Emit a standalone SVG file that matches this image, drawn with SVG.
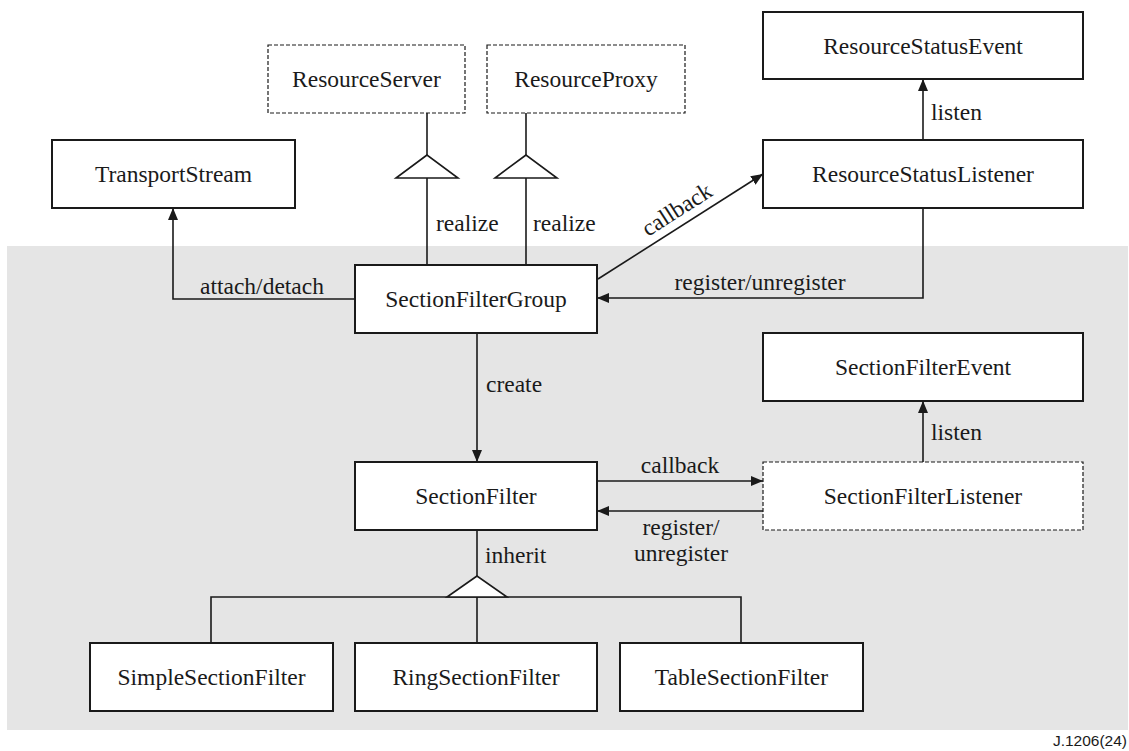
<svg xmlns="http://www.w3.org/2000/svg" width="1129" height="751" viewBox="0 0 1129 751">
  <style>
    .box { fill: #ffffff; stroke: #1a1a1a; stroke-width: 2; }
    .dash { fill: #ffffff; stroke: #1a1a1a; stroke-width: 1.2; stroke-dasharray: 4 2; }
    .name { font-family: "Liberation Serif", "Times New Roman", serif; font-size: 23.5px; fill: #1a1a1a; text-anchor: middle; }
    .lbl { font-family: "Liberation Serif", "Times New Roman", serif; font-size: 23.5px; fill: #1a1a1a; }
    .wire { fill: none; stroke: #1a1a1a; stroke-width: 1.6; }
    .tri { fill: #ffffff; stroke: #1a1a1a; stroke-width: 1.6; }
  </style>
  <defs>
    <marker id="arrow" viewBox="0 0 12 10" refX="12" refY="5" markerWidth="12" markerHeight="10" markerUnits="userSpaceOnUse" orient="auto">
      <path d="M0,0 L12,5 L0,10 Z" fill="#1a1a1a"/>
    </marker>
  </defs>

  <rect width="1129" height="751" fill="#ffffff"/>
  <!-- shaded region -->
  <rect x="7" y="246" width="1121" height="484" fill="#e5e5e5"/>

  <!-- connectors -->
  <g id="connectors">
    <!-- attach/detach -->
    <polyline class="wire" points="355,299 173,299 173,208" marker-end="url(#arrow)"/>
    <text class="lbl" x="200" y="294">attach/detach</text>

    <!-- realize: ResourceServer -->
    <line class="wire" x1="427" y1="265" x2="427" y2="178"/>
    <polygon class="tri" points="427,155 396,178 458,178"/>
    <line class="wire" x1="427" y1="155" x2="427" y2="113"/>
    <text class="lbl" x="436" y="231">realize</text>

    <!-- realize: ResourceProxy -->
    <line class="wire" x1="526" y1="265" x2="526" y2="178"/>
    <polygon class="tri" points="526,155 495,178 557,178"/>
    <line class="wire" x1="526" y1="155" x2="526" y2="113"/>
    <text class="lbl" x="533" y="231">realize</text>

    <!-- callback to ResourceStatusListener -->
    <line class="wire" x1="598" y1="279" x2="763" y2="174" marker-end="url(#arrow)"/>
    <text class="lbl" text-anchor="middle" transform="translate(681,216) rotate(-32.5)">callback</text>

    <!-- register/unregister from ResourceStatusListener -->
    <polyline class="wire" points="923,208 923,298 597,298" marker-end="url(#arrow)"/>
    <text class="lbl" text-anchor="middle" x="760" y="290">register/unregister</text>

    <!-- listen: ResourceStatusListener -> ResourceStatusEvent -->
    <line class="wire" x1="923" y1="140" x2="923" y2="79" marker-end="url(#arrow)"/>
    <text class="lbl" x="931" y="120">listen</text>

    <!-- create -->
    <line class="wire" x1="477" y1="333" x2="477" y2="462" marker-end="url(#arrow)"/>
    <text class="lbl" x="486" y="392">create</text>

    <!-- callback to SectionFilterListener -->
    <line class="wire" x1="597" y1="481" x2="763" y2="481" marker-end="url(#arrow)"/>
    <text class="lbl" text-anchor="middle" x="680" y="473">callback</text>

    <!-- register/unregister from SectionFilterListener -->
    <line class="wire" x1="763" y1="511" x2="597" y2="511" marker-end="url(#arrow)"/>
    <text class="lbl" text-anchor="middle" x="681" y="535">register/</text>
    <text class="lbl" text-anchor="middle" x="681" y="561">unregister</text>

    <!-- listen: SectionFilterListener -> SectionFilterEvent -->
    <line class="wire" x1="923" y1="462" x2="923" y2="401" marker-end="url(#arrow)"/>
    <text class="lbl" x="931" y="440">listen</text>

    <!-- inherit -->
    <line class="wire" x1="477" y1="530" x2="477" y2="576"/>
    <polyline class="wire" points="211,643 211,597 741,597 741,643"/>
    <line class="wire" x1="477" y1="597" x2="477" y2="643"/>
    <polygon class="tri" points="477,576 447,597 507,597"/>
    <text class="lbl" x="485" y="563">inherit</text>
  </g>

  <!-- nodes -->
  <g id="resource-server">
    <rect class="dash" x="268" y="45" width="197" height="68"/>
    <text class="name" x="366.5" y="87">ResourceServer</text>
  </g>
  <g id="resource-proxy">
    <rect class="dash" x="487" y="45" width="198" height="68"/>
    <text class="name" x="586" y="87">ResourceProxy</text>
  </g>
  <g id="resource-status-event">
    <rect class="box" x="763" y="12" width="320" height="67"/>
    <text class="name" x="923" y="54">ResourceStatusEvent</text>
  </g>
  <g id="transport-stream">
    <rect class="box" x="52" y="140" width="243" height="68"/>
    <text class="name" x="173.5" y="182">TransportStream</text>
  </g>
  <g id="resource-status-listener">
    <rect class="box" x="763" y="140" width="320" height="68"/>
    <text class="name" x="923" y="182">ResourceStatusListener</text>
  </g>
  <g id="section-filter-group">
    <rect class="box" x="355" y="265" width="242" height="68"/>
    <text class="name" x="476" y="307">SectionFilterGroup</text>
  </g>
  <g id="section-filter-event">
    <rect class="box" x="763" y="333" width="320" height="68"/>
    <text class="name" x="923" y="375">SectionFilterEvent</text>
  </g>
  <g id="section-filter">
    <rect class="box" x="355" y="462" width="242" height="68"/>
    <text class="name" x="476" y="504">SectionFilter</text>
  </g>
  <g id="section-filter-listener">
    <rect class="dash" x="763" y="462" width="320" height="68"/>
    <text class="name" x="923" y="504">SectionFilterListener</text>
  </g>
  <g id="simple-section-filter">
    <rect class="box" x="90" y="643" width="243" height="68"/>
    <text class="name" x="211.5" y="685">SimpleSectionFilter</text>
  </g>
  <g id="ring-section-filter">
    <rect class="box" x="355" y="643" width="242" height="68"/>
    <text class="name" x="476" y="685">RingSectionFilter</text>
  </g>
  <g id="table-section-filter">
    <rect class="box" x="620" y="643" width="243" height="68"/>
    <text class="name" x="741.5" y="685">TableSectionFilter</text>
  </g>

  <text x="1127" y="746" font-family="Liberation Sans, Arial, sans-serif" font-size="15.5" fill="#1a1a1a" text-anchor="end">J.1206(24)</text>
</svg>
